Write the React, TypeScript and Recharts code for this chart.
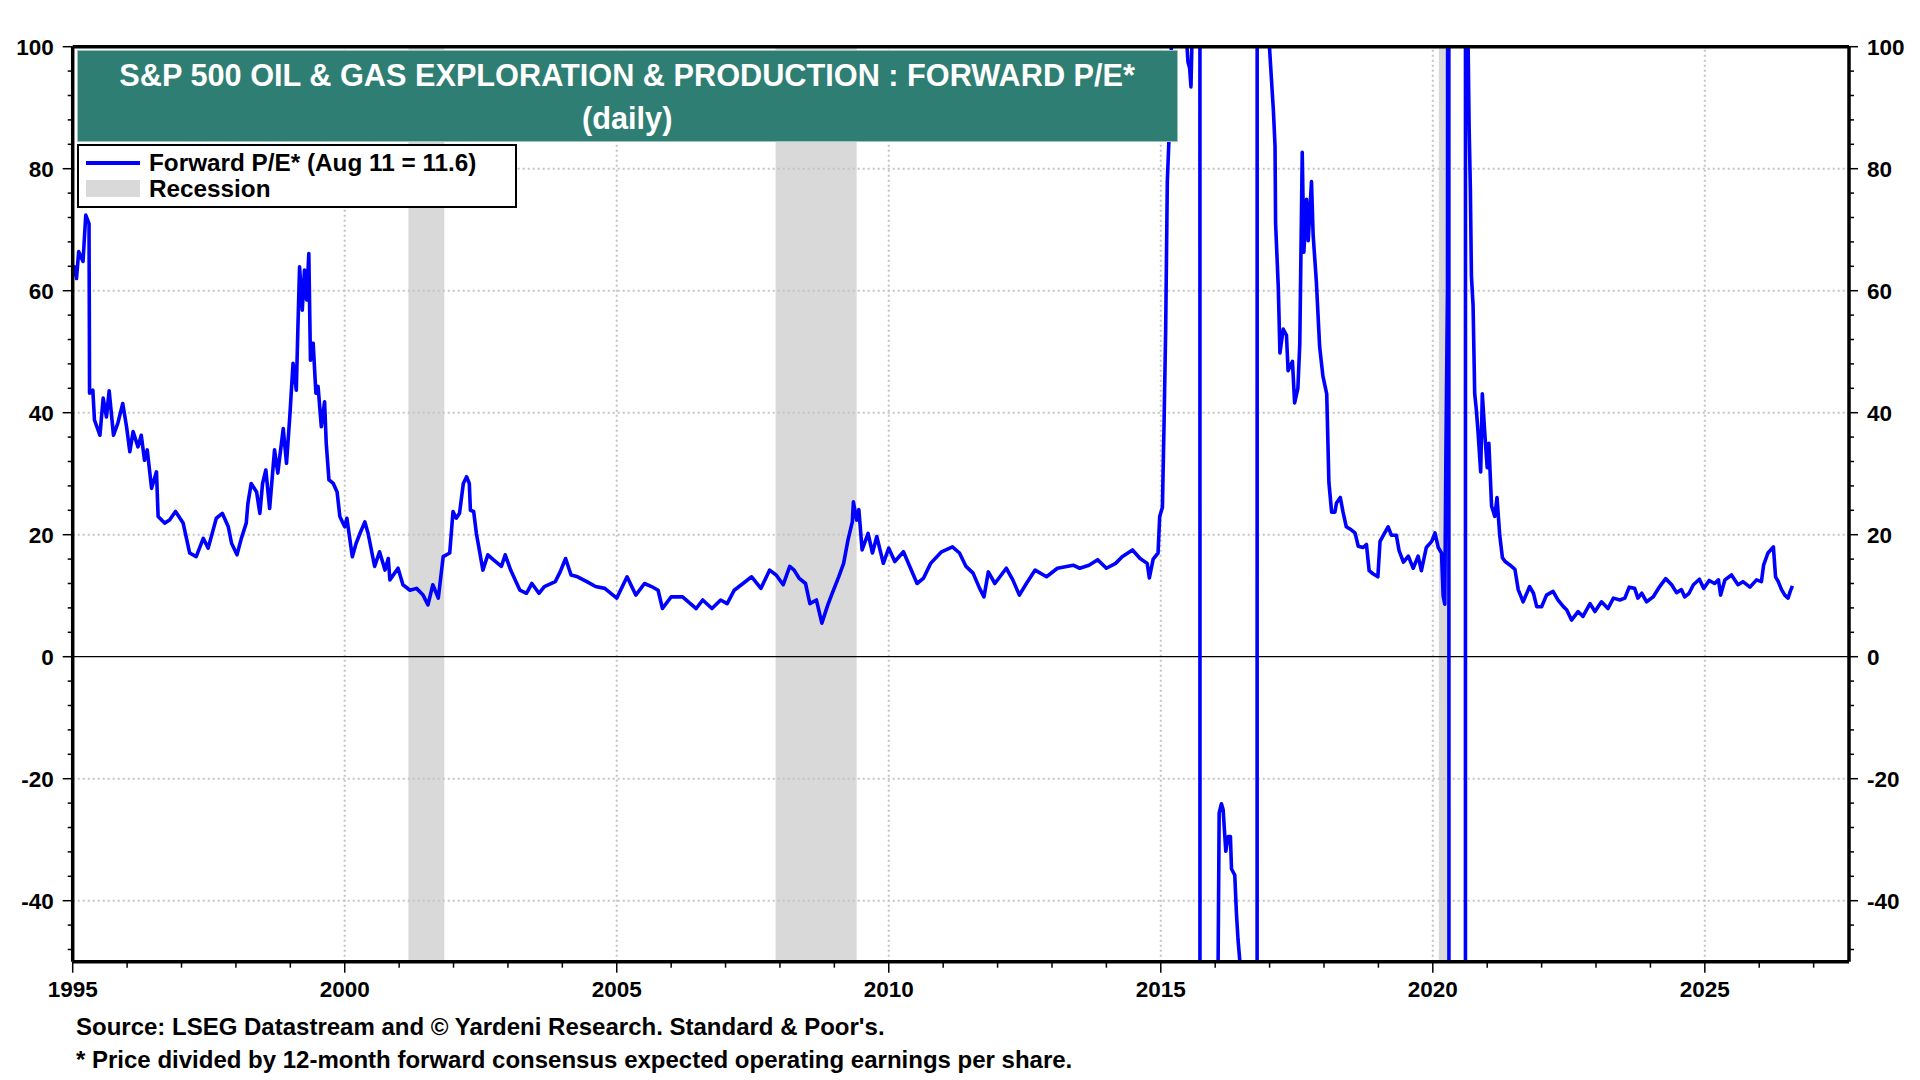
import React from 'react';
import { ComposedChart, Line, XAxis, YAxis, ReferenceArea, ReferenceLine } from 'recharts';

// Decimal-year dates and forward P/E values
const dates = [
  1995.00, 1995.04, 1995.07, 1995.11, 1995.19, 1995.24, 1995.30, 1995.31, 1995.37, 1995.40,
  1995.50, 1995.56, 1995.62, 1995.67, 1995.75, 1995.83, 1995.92, 1995.99, 1996.05, 1996.11,
  1996.20, 1996.26, 1996.32, 1996.37, 1996.45, 1996.54, 1996.57, 1996.69, 1996.78, 1996.89,
  1997.03, 1997.15, 1997.27, 1997.40, 1997.49, 1997.64, 1997.75, 1997.86, 1997.92, 1998.02,
  1998.10, 1998.19, 1998.22, 1998.28, 1998.38, 1998.44, 1998.49, 1998.55, 1998.62, 1998.71,
  1998.77, 1998.87, 1998.93, 1998.99, 1999.05, 1999.11, 1999.14, 1999.17, 1999.22, 1999.26,
  1999.30, 1999.34, 1999.37, 1999.42, 1999.47, 1999.51, 1999.57, 1999.63, 1999.66, 1999.71,
  1999.79, 1999.86, 1999.91, 2000.00, 2000.04, 2000.14, 2000.21, 2000.28, 2000.37, 2000.43,
  2000.55, 2000.64, 2000.74, 2000.80, 2000.83, 2000.98, 2001.07, 2001.20, 2001.32, 2001.44,
  2001.53, 2001.62, 2001.72, 2001.81, 2001.93, 2001.99, 2002.05, 2002.11, 2002.18, 2002.24,
  2002.29, 2002.31, 2002.37, 2002.42, 2002.54, 2002.63, 2002.73, 2002.88, 2002.95, 2003.05,
  2003.22, 2003.34, 2003.44, 2003.57, 2003.67, 2003.87, 2003.96, 2004.06, 2004.16, 2004.28,
  2004.45, 2004.61, 2004.78, 2005.00, 2005.19, 2005.35, 2005.51, 2005.64, 2005.76, 2005.84,
  2006.00, 2006.21, 2006.46, 2006.58, 2006.75, 2006.91, 2007.03, 2007.16, 2007.32, 2007.48,
  2007.65, 2007.81, 2007.93, 2008.06, 2008.18, 2008.26, 2008.35, 2008.47, 2008.55, 2008.67,
  2008.77, 2008.88, 2008.96, 2009.08, 2009.17, 2009.25, 2009.33, 2009.35, 2009.41, 2009.45,
  2009.51, 2009.62, 2009.70, 2009.78, 2009.90, 2010.00, 2010.11, 2010.27, 2010.40, 2010.52,
  2010.64, 2010.77, 2010.97, 2011.17, 2011.30, 2011.42, 2011.55, 2011.67, 2011.75, 2011.83,
  2011.95, 2012.16, 2012.28, 2012.40, 2012.53, 2012.69, 2012.90, 2013.10, 2013.27, 2013.39,
  2013.51, 2013.68, 2013.84, 2014.00, 2014.17, 2014.29, 2014.48, 2014.62, 2014.75, 2014.79,
  2014.86, 2014.95, 2014.98, 2015.03, 2015.06, 2015.09, 2015.12, 2015.15, 2015.20, 2015.33,
  2015.46, 2015.50, 2015.53, 2015.555, 2015.58, 2015.65, 2015.718, 2015.722, 2015.90, 2016.02,
  2016.054, 2016.073, 2016.115, 2016.146, 2016.195, 2016.238, 2016.28, 2016.30, 2016.36, 2016.39,
  2016.42, 2016.452, 2016.55, 2016.769, 2016.773, 2016.90, 2016.99, 2017.00, 2017.07, 2017.10,
  2017.11, 2017.16, 2017.19, 2017.25, 2017.31, 2017.34, 2017.42, 2017.46, 2017.52, 2017.555,
  2017.60, 2017.63, 2017.68, 2017.71, 2017.77, 2017.80, 2017.86, 2017.92, 2017.98, 2018.05,
  2018.09, 2018.14, 2018.20, 2018.23, 2018.30, 2018.35, 2018.41, 2018.50, 2018.57, 2018.63,
  2018.72, 2018.78, 2018.83, 2018.90, 2018.99, 2019.03, 2019.09, 2019.18, 2019.24, 2019.33,
  2019.38, 2019.46, 2019.55, 2019.64, 2019.73, 2019.79, 2019.88, 2019.98, 2020.04, 2020.10,
  2020.16, 2020.19, 2020.22, 2020.24, 2020.27, 2020.292, 2020.300, 2020.45, 2020.598, 2020.602,
  2020.64, 2020.65, 2020.668, 2020.69, 2020.71, 2020.74, 2020.77, 2020.80, 2020.83, 2020.88,
  2020.91, 2020.96, 2021.00, 2021.03, 2021.08, 2021.14, 2021.18, 2021.23, 2021.28, 2021.33,
  2021.42, 2021.51, 2021.57, 2021.66, 2021.78, 2021.85, 2021.91, 2022.00, 2022.09, 2022.21,
  2022.30, 2022.40, 2022.46, 2022.55, 2022.67, 2022.76, 2022.89, 2022.98, 2023.10, 2023.22,
  2023.32, 2023.44, 2023.53, 2023.61, 2023.71, 2023.77, 2023.84, 2023.93, 2024.05, 2024.17,
  2024.28, 2024.39, 2024.48, 2024.57, 2024.63, 2024.71, 2024.79, 2024.90, 2024.98, 2025.08,
  2025.18, 2025.25, 2025.29, 2025.37, 2025.49, 2025.61, 2025.70, 2025.83, 2025.95, 2026.04,
  2026.08, 2026.16, 2026.26, 2026.30, 2026.35, 2026.41, 2026.47, 2026.53, 2026.57, 2026.61,
];

const peValues = [
  62.5, 63.9, 62.0, 66.4, 64.8, 72.4, 71.0, 43.2, 43.7, 38.8,
  36.3, 42.4, 39.3, 43.6, 36.3, 38.3, 41.5, 37.7, 33.6, 36.9,
  34.4, 36.3, 32.2, 33.9, 27.6, 30.3, 23.0, 21.9, 22.4, 23.8,
  21.9, 17.0, 16.4, 19.4, 17.8, 22.7, 23.5, 21.3, 18.6, 16.7,
  19.4, 21.9, 25.1, 28.4, 27.0, 23.5, 28.4, 30.6, 24.3, 33.9,
  30.1, 37.4, 31.7, 39.3, 48.1, 43.7, 54.1, 63.9, 56.8, 63.4,
  58.5, 66.1, 48.6, 51.4, 43.2, 44.3, 37.7, 41.8, 35.0, 29.0,
  28.4, 27.0, 23.0, 21.3, 22.7, 16.4, 18.6, 20.2, 22.1, 20.2,
  14.8, 17.2, 14.2, 16.1, 12.6, 14.5, 11.8, 10.9, 11.2, 10.1,
  8.5, 11.8, 9.6, 16.4, 17.0, 23.8, 22.7, 23.5, 28.4, 29.5,
  28.4, 24.0, 23.8, 20.2, 14.2, 16.7, 15.9, 14.8, 16.7, 14.2,
  10.9, 10.4, 12.0, 10.4, 11.5, 12.3, 13.9, 16.1, 13.4, 13.1,
  12.3, 11.5, 11.2, 9.6, 13.1, 10.1, 12.0, 11.5, 10.9, 7.9,
  9.8, 9.8, 7.9, 9.3, 7.9, 9.3, 8.7, 10.9, 12.0, 13.1,
  11.2, 14.2, 13.4, 11.8, 14.8, 14.2, 12.9, 12.0, 8.7, 9.3,
  5.5, 8.5, 10.4, 13.1, 15.3, 19.1, 22.1, 25.4, 22.4, 24.1,
  17.5, 20.2, 17.0, 19.7, 15.3, 17.8, 15.6, 17.2, 14.5, 12.0,
  12.9, 15.3, 17.2, 18.0, 17.0, 14.8, 13.7, 11.2, 9.8, 13.9,
  12.0, 14.5, 12.6, 10.1, 12.0, 14.2, 13.1, 14.5, 14.8, 15.0,
  14.5, 15.0, 15.9, 14.5, 15.3, 16.4, 17.5, 16.1, 15.3, 12.9,
  16.0, 17.0, 23.0, 24.5, 38.2, 53.7, 77.9, 84.7, 102, 140,
  103, 97.5, 96.5, 93.4, 104, 160, 400, -400, -150, -70,
  -49.8, -25.6, -24.1, -25.1, -31.9, -29.5, -29.5, -34.8, -35.8, -42.0,
  -46.4, -49.8, -90, -400, 400, 180, 104, 99.6, 89.5, 83.7,
  71.1, 60.5, 49.8, 53.7, 52.7, 46.9, 48.4, 41.6, 44.0, 51.3,
  82.7, 66.3, 75.0, 68.2, 77.9, 69.2, 61.4, 50.8, 46.0, 43.1,
  28.6, 23.7, 23.7, 25.2, 26.1, 23.7, 21.3, 20.8, 20.3, 18.1,
  17.9, 18.4, 14.1, 13.6, 13.1, 18.9, 19.9, 21.3, 19.9, 19.9,
  17.4, 15.5, 16.5, 14.5, 16.5, 14.1, 17.9, 18.9, 20.3, 17.9,
  17.0, 10.0, 8.6, 32.3, 60.5, 400, -400, -200, -400, 400,
  130, 99.6, 86.6, 76.9, 62.4, 57.6, 43.1, 40.5, 37.0, 30.3,
  43.1, 36.0, 31.0, 35.0, 24.7, 23.0, 26.1, 19.9, 16.2, 15.6,
  15.0, 14.3, 11.0, 9.0, 11.5, 10.4, 8.2, 8.2, 10.1, 10.7,
  9.3, 8.2, 7.7, 6.0, 7.4, 6.6, 8.7, 7.4, 9.0, 7.9,
  9.6, 9.3, 9.6, 11.4, 11.2, 9.6, 10.4, 9.0, 9.8, 11.5,
  12.8, 11.8, 10.5, 11.0, 9.8, 10.4, 11.8, 12.7, 11.2, 12.5,
  12.0, 12.6, 10.1, 12.6, 13.4, 11.8, 12.3, 11.4, 12.6, 12.3,
  15.0, 17.0, 18.0, 13.1, 12.3, 11.0, 10.1, 9.6, 10.7, 11.6,
];

// Recession periods (decimal years)
const recessionStarts = [2001.17, 2007.92, 2020.11];
const recessionEnds = [2001.83, 2009.41, 2020.26];

// Axis ticks
const xTicks = [
  1995, 1996, 1997, 1998, 1999, 2000, 2001, 2002, 2003, 2004, 2005, 2006, 2007, 2008, 2009,
  2010, 2011, 2012, 2013, 2014, 2015, 2016, 2017, 2018, 2019, 2020, 2021, 2022, 2023, 2024,
  2025, 2026, 2027,
];
const xLabelTicks = [1995, 2000, 2005, 2010, 2015, 2020, 2025];
const xGridTicks = [2000, 2005, 2010, 2015, 2020, 2025];
const yTicks = [
  -48, -44, -40, -36, -32, -28, -24, -20, -16, -12, -8, -4, 0, 4, 8, 12, 16, 20, 24, 28, 32,
  36, 40, 44, 48, 52, 56, 60, 64, 68, 72, 76, 80, 84, 88, 92, 96, 100,
];
const yLabelTicks = [-40, -20, 0, 20, 40, 60, 80, 100];
const yGridTicks = [-40, -20, 20, 40, 60, 80];

const titleLine1 = 'S&P 500 OIL & GAS EXPLORATION & PRODUCTION : FORWARD P/E*';
const titleLine2 = '(daily)';
const legendSeries = 'Forward P/E* (Aug 11 = 11.6)';
const legendRecession = 'Recession';
const footnote1 = "Source: LSEG Datastream and \u00A9 Yardeni Research. Standard & Poor's.";
const footnote2 = '* Price divided by 12-month forward consensus expected operating earnings per share.';

const data = dates.map((d, i) => ({ year: d, pe: peValues[i] }));

const FONT = "Arial, 'Liberation Sans', Helvetica, sans-serif";

const XTick = (p: any) => {
  const v = p.payload.value;
  const major = xLabelTicks.includes(v);
  return (
    <g>
      <line x1={p.x} x2={p.x} y1={p.y} y2={p.y + (major ? 11 : 6)} stroke="#000" strokeWidth={1.5} />
      {major && (
        <text x={p.x} y={p.y + 35} textAnchor="middle" fontFamily={FONT} fontWeight="bold" fontSize={22.5} fill="#000">
          {v}
        </text>
      )}
    </g>
  );
};

const YTickLeft = (p: any) => {
  const v = p.payload.value;
  const major = yLabelTicks.includes(v);
  return (
    <g>
      <line x1={p.x - (major ? 10 : 5)} x2={p.x} y1={p.y} y2={p.y} stroke="#000" strokeWidth={1.5} />
      {major && (
        <text x={p.x - 19} y={p.y + 8} textAnchor="end" fontFamily={FONT} fontWeight="bold" fontSize={22.5} fill="#000">
          {v}
        </text>
      )}
    </g>
  );
};

const YTickRight = (p: any) => {
  const v = p.payload.value;
  const major = yLabelTicks.includes(v);
  return (
    <g>
      <line x1={p.x} x2={p.x + (major ? 9 : 5)} y1={p.y} y2={p.y} stroke="#000" strokeWidth={1.5} />
      {major && (
        <text x={p.x + 18} y={p.y + 8} textAnchor="start" fontFamily={FONT} fontWeight="bold" fontSize={22.5} fill="#000">
          {v}
        </text>
      )}
    </g>
  );
};

export default function App() {
  return (
    <div style={{ position: 'absolute', left: 0, top: 0, width: 1920, height: 1080, background: '#fff', fontFamily: FONT }}>
      <ComposedChart width={1920} height={1080} data={data} margin={{ top: 46.7, right: 0, bottom: 68.3, left: 0 }}>
        {recessionStarts.map((s, i) => (
          <ReferenceArea
            key={'r' + i}
            xAxisId="x"
            yAxisId="L"
            x1={s}
            x2={recessionEnds[i]}
            fill="#d9d9d9"
            fillOpacity={1}
            stroke="none"
            zIndex={-60}
          />
        ))}
        {yGridTicks.map((v) => (
          <ReferenceLine key={'gy' + v} xAxisId="x" yAxisId="L" y={v} stroke="#c4c4c4" strokeWidth={2} strokeDasharray="2 3" zIndex={-50} />
        ))}
        {xGridTicks.map((v) => (
          <ReferenceLine key={'gx' + v} xAxisId="x" yAxisId="L" x={v} stroke="#c4c4c4" strokeWidth={2} strokeDasharray="2 3" zIndex={-50} />
        ))}
        <ReferenceLine xAxisId="x" yAxisId="L" y={0} stroke="#000" strokeWidth={1.2} zIndex={-40} />
        <Line
          xAxisId="x"
          yAxisId="L"
          dataKey="pe"
          type="linear"
          stroke="#0000ff"
          strokeWidth={3.6}
          strokeLinejoin="round"
          dot={false}
          activeDot={false}
          isAnimationActive={false}
        />
        <XAxis
          xAxisId="x"
          dataKey="year"
          type="number"
          domain={[1995, 2027.65]}
          allowDataOverflow
          ticks={xTicks}
          interval={0}
          tickSize={0}
          tickMargin={0}
          tickLine={false}
          axisLine={{ stroke: '#000', strokeWidth: 3.5 }}
          tick={(p: any) => <XTick {...p} />}
          height={50}
        />
        <YAxis
          yAxisId="L"
          orientation="left"
          type="number"
          domain={[-50, 100]}
          allowDataOverflow
          ticks={yTicks}
          interval={0}
          tickSize={0}
          tickMargin={0}
          tickLine={false}
          axisLine={{ stroke: '#000', strokeWidth: 3.5 }}
          tick={(p: any) => <YTickLeft {...p} />}
          width={72.7}
        />
        <YAxis
          yAxisId="R"
          orientation="right"
          type="number"
          domain={[-50, 100]}
          allowDataOverflow
          ticks={yTicks}
          interval={0}
          tickSize={0}
          tickMargin={0}
          tickLine={false}
          axisLine={{ stroke: '#000', strokeWidth: 3.5 }}
          tick={(p: any) => <YTickRight {...p} />}
          width={71}
        />
        <ReferenceLine xAxisId="x" yAxisId="L" y={100} stroke="#000" strokeWidth={3.5} zIndex={600} />
      </ComposedChart>

      {/* Title box */}
      <div
        style={{
          position: 'absolute',
          left: 76.7,
          top: 50,
          width: 1101,
          height: 92,
          background: '#2f7e73',
          color: '#fff',
          fontWeight: 'bold',
          fontSize: 30.7,
          textAlign: 'center',
          boxSizing: 'border-box',
          border: '1px solid #9cc3bd',
        }}
      >
        <div style={{ position: 'absolute', left: 0, right: 0, top: 24.7 - 17, height: 34, lineHeight: '34px', whiteSpace: 'nowrap' }}>{titleLine1}</div>
        <div style={{ position: 'absolute', left: 0, right: 0, top: 67.5 - 17, height: 34, lineHeight: '34px', whiteSpace: 'nowrap' }}>{titleLine2}</div>
      </div>

      {/* Legend box */}
      <div
        style={{
          position: 'absolute',
          left: 77,
          top: 144,
          width: 440,
          height: 64,
          background: '#fff',
          border: '2.5px solid #000',
          boxSizing: 'border-box',
        }}
      >
        <div style={{ position: 'absolute', left: 7, top: 15, width: 54, height: 4, background: '#0000ff' }} />
        <div style={{ position: 'absolute', left: 7, top: 34, width: 54, height: 17, background: '#d9d9d9' }} />
        <div style={{ position: 'absolute', left: 70, top: 3, height: 28, lineHeight: '28px', fontSize: 24.3, fontWeight: 'bold', color: '#000', whiteSpace: 'nowrap' }}>
          {legendSeries}
        </div>
        <div style={{ position: 'absolute', left: 70, top: 29, height: 28, lineHeight: '28px', fontSize: 24.3, fontWeight: 'bold', color: '#000', whiteSpace: 'nowrap' }}>
          {legendRecession}
        </div>
      </div>

      {/* Footnotes */}
      <div style={{ position: 'absolute', left: 76, top: 1027 - 14, height: 28, lineHeight: '28px', fontSize: 24, fontWeight: 'bold', color: '#000', whiteSpace: 'nowrap' }}>
        {footnote1}
      </div>
      <div style={{ position: 'absolute', left: 76, top: 1060 - 14, height: 28, lineHeight: '28px', fontSize: 24, fontWeight: 'bold', color: '#000', whiteSpace: 'nowrap' }}>
        {footnote2}
      </div>
    </div>
  );
}
